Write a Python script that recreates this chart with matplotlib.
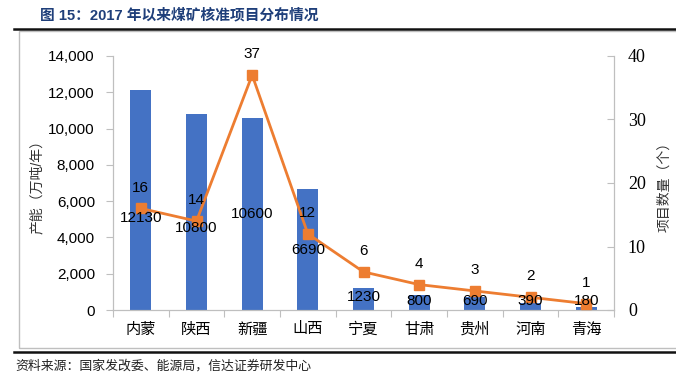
import matplotlib.pyplot as plt
import numpy as np
from matplotlib.patches import Rectangle
from matplotlib.lines import Line2D

provinces = ['内蒙', '陕西', '新疆', '山西', '宁夏', '甘肃', '贵州', '河南', '青海']
capacity = [12130, 10800, 10600, 6690, 1230, 800, 690, 390, 180]
projects = [16, 14, 37, 12, 6, 4, 3, 2, 1]
# where the bar value labels sit (left axis units)
cap_label_y = [5070, 4520, 5290, 3310, 720, 500, 500, 500, 500]

cjk = ['Liberation Sans', 'Noto Sans CJK SC']
plt.rcParams['font.family'] = cjk

W, H = 676, 386
fig = plt.figure(figsize=(W / 100, H / 100), dpi=100)

# frame and header / footer rules
fig.patches.append(Rectangle((19 / W, 1 - 348 / H), 700 / W, (348 - 31) / H,
                             transform=fig.transFigure, fill=False,
                             edgecolor='#BFBFBF', linewidth=1))
fig.lines.append(Line2D([14 / W, 1], [1 - 29 / H] * 2, transform=fig.transFigure,
                        color='#111111', linewidth=1.8))
fig.lines.append(Line2D([14 / W, 1], [1 - 352 / H] * 2, transform=fig.transFigure,
                        color='#111111', linewidth=1.8))

fig.text(40 / W, 1 - 15 / H, '图 15：2017 年以来煤矿核准项目分布情况', fontsize=10.6,
         fontweight='bold', color='#1F3F7A', va='center', ha='left')
fig.text(15 / W, 1 - 366 / H, '资料来源：国家发改委、能源局，信达证券研发中心',
         fontsize=9.3, va='center', ha='left', color='#222222')

ax = fig.add_axes([113 / W, 1 - 310 / H, 501 / W, 254 / H])
ax2 = ax.twinx()

x = np.arange(len(provinces))
ax.bar(x, capacity, width=0.38, color='#4472C4', zorder=2)

ax2.plot(x, projects, color='#ED7D31', linewidth=2, marker='s', markersize=7.5,
         zorder=3)
for xi, v in zip(x, projects):
    ax2.annotate(str(v), (xi, v), xytext=(0, 15), textcoords='offset points',
                 ha='center', va='center', fontsize=11)
# bar labels go on top of the line, like the original
for xi, v, ly in zip(x, capacity, cap_label_y):
    ax2.text(xi, ly, str(v), ha='center', va='center', fontsize=11, zorder=5,
             transform=ax.transData)

ax.set_xlim(-0.5, len(provinces) - 0.5)
ax.set_ylim(0, 14000)
ax2.set_ylim(0, 40)
ax.set_yticks(np.arange(0, 14001, 2000))
ax.set_yticklabels([f'{v:,}' for v in range(0, 14001, 2000)], fontsize=11)
ax2.set_yticks(np.arange(0, 41, 10))
ax2.set_yticklabels([str(v) for v in range(0, 41, 10)], fontsize=13,
                    family='Liberation Serif')

ax.set_xticks(np.arange(-0.5, len(provinces)), minor=False)
ax.set_xticklabels([])
ax.set_xticks(x, minor=True)
ax.set_xticklabels(provinces, minor=True, fontsize=11)
ax.tick_params(axis='x', which='major', length=5, color='#BFBFBF')
ax.tick_params(axis='x', which='minor', length=0, pad=9)
ax.tick_params(axis='y', length=5, color='#BFBFBF', pad=8)
ax2.tick_params(axis='y', direction='in', length=5, color='#BFBFBF', pad=10)

for a in (ax, ax2):
    a.spines['top'].set_visible(False)
    for s in ('left', 'right', 'bottom'):
        a.spines[s].set_color('#BFBFBF')

ax.set_ylabel('产能（万吨/年）', fontsize=10, labelpad=3, color='#333333')
ax2.set_ylabel('项目数量（个）', fontsize=10, rotation=90, labelpad=8,
               color='#333333')

fig.savefig('out.png', dpi=100)
